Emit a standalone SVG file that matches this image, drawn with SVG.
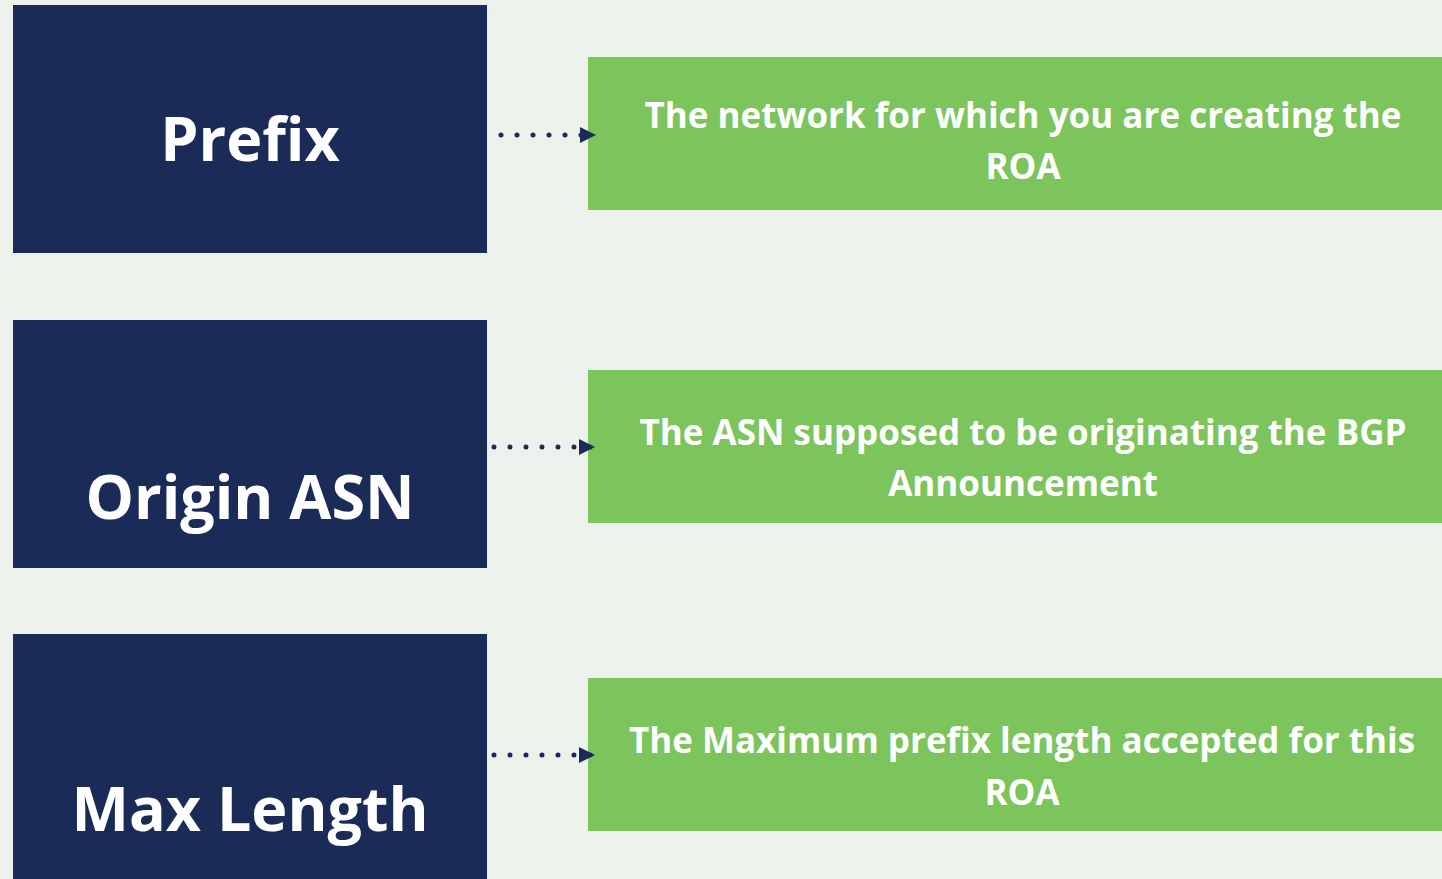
<svg xmlns="http://www.w3.org/2000/svg" width="1442" height="879" viewBox="0 0 1442 879">
  <defs>
    <style>
      .bg { fill: #EDF1EC; }
      .term { fill: #1B2B58; }
      .desc { fill: #7CC45C; }
      .term-label { font-family: "Open Sans", "Liberation Sans", sans-serif; font-weight: 700; font-size: 61px; fill: #FFFFFF; text-anchor: middle; }
      .desc-label { font-family: "Open Sans", "Liberation Sans", sans-serif; font-weight: 700; font-size: 35px; fill: #FFFFFF; text-anchor: middle; }
      .link { stroke: #1B2B58; stroke-width: 5; stroke-linecap: round; stroke-dasharray: 0 16; fill: none; }
    </style>
    <marker id="arrow" markerWidth="16" markerHeight="16" refX="16" refY="8" orient="auto" markerUnits="userSpaceOnUse">
      <path d="M0,0 L16,8 L0,16 Z" fill="#1B2B58"/>
    </marker>
  </defs>

  <rect class="bg" x="0" y="0" width="1442" height="879"/>

  <g id="prefix">
    <rect class="term" x="13" y="5" width="474" height="248"/>
    <text class="term-label" x="250" y="161">Prefix</text>
  </g>
  <g id="origin-asn">
    <rect class="term" x="13" y="320" width="474" height="248"/>
    <text class="term-label" x="250" y="519">Origin ASN</text>
  </g>
  <g id="max-length">
    <rect class="term" x="13" y="634" width="474" height="250"/>
    <text class="term-label" x="250" y="831">Max Length</text>
  </g>

  <g id="prefix-desc">
    <rect class="desc" x="588" y="57" width="860" height="153"/>
    <text class="desc-label" x="1023" y="128">The network for which you are creating the</text>
    <text class="desc-label" x="1023" y="179">ROA</text>
  </g>
  <g id="origin-asn-desc">
    <rect class="desc" x="588" y="370" width="860" height="153"/>
    <text class="desc-label" x="1023" y="445">The ASN supposed to be originating the BGP</text>
    <text class="desc-label" x="1023" y="496">Announcement</text>
  </g>
  <g id="max-length-desc">
    <rect class="desc" x="588" y="678" width="860" height="153"/>
    <text class="desc-label" x="1022" y="753">The Maximum prefix length accepted for this</text>
    <text class="desc-label" x="1022" y="805">ROA</text>
  </g>

  <g id="connectors">
    <line class="link" x1="501" y1="135" x2="596" y2="135" marker-end="url(#arrow)"/>
    <line class="link" x1="494" y1="447" x2="595" y2="447" marker-end="url(#arrow)"/>
    <line class="link" x1="494" y1="755" x2="595" y2="755" marker-end="url(#arrow)"/>
  </g>
</svg>
